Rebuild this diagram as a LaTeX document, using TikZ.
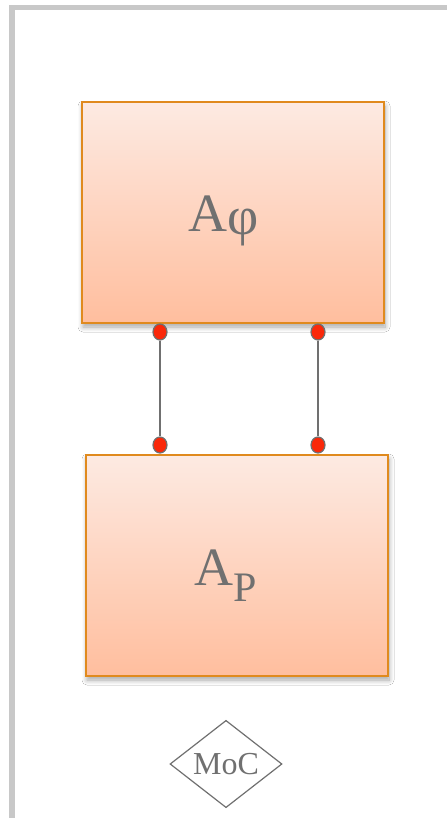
\documentclass[tikz,border=0pt]{standalone}
\usepackage{fontspec}
\setmainfont{Liberation Serif}
\usetikzlibrary{shapes.geometric,shadows.blur}
\definecolor{frameg}{RGB}{200,200,200}
\definecolor{boxtop}{RGB}{253,234,226}
\definecolor{boxbot}{RGB}{255,190,158}
\definecolor{boxedge}{RGB}{224,138,30}
\definecolor{txtg}{RGB}{112,112,112}
\definecolor{dotred}{RGB}{250,40,10}
\tikzset{
  blockbox/.style={draw=boxedge, line width=1.5pt, top color=boxtop, bottom color=boxbot,
    minimum width=302pt, minimum height=221pt, inner sep=0pt,
    blur shadow={shadow xshift=1pt, shadow yshift=-4pt, shadow blur steps=8, shadow blur radius=5pt, shadow opacity=35}},
  pin/.style={ellipse, fill=dotred, draw=txtg, line width=1.2pt, minimum width=14pt, minimum height=16pt, inner sep=0pt},
  wire/.style={draw=txtg, line width=1.5pt},
  lbl/.style={text=txtg, font=\fontsize{54}{54}\selectfont}
}
\begin{document}
\begin{tikzpicture}[x=1pt,y=-1pt]
\useasboundingbox (0,0) rectangle (447,818);
\fill[white] (0,0) rectangle (447,818);
\draw[frameg, line width=5.5pt] (12,818) -- (12,7.5) -- (447,7.5);
\node[blockbox] (top) at (233,212.5) {};
\node[blockbox] (bot) at (237,565.5) {};
\node[lbl] (ttop) at (224,221) {A\raisebox{-0.05em}{φ}};
\node[lbl] (tbot) at (226,576) {A\raisebox{-0.3em}{\fontsize{42}{42}\selectfont P}};
\node[pin] (p1) at (160,332) {};
\node[pin] (p2) at (318,332) {};
\node[pin] (p3) at (160,445) {};
\node[pin] (p4) at (318,445) {};
\draw[wire] (p1) -- (p3);
\draw[wire] (p2) -- (p4);
\node[diamond, draw=txtg, line width=1.2pt, minimum width=112pt, minimum height=84pt, inner sep=0pt,
  text=txtg, font=\fontsize{32}{32}\selectfont] (moc) at (226,764) {MoC};
\end{tikzpicture}
\end{document}
